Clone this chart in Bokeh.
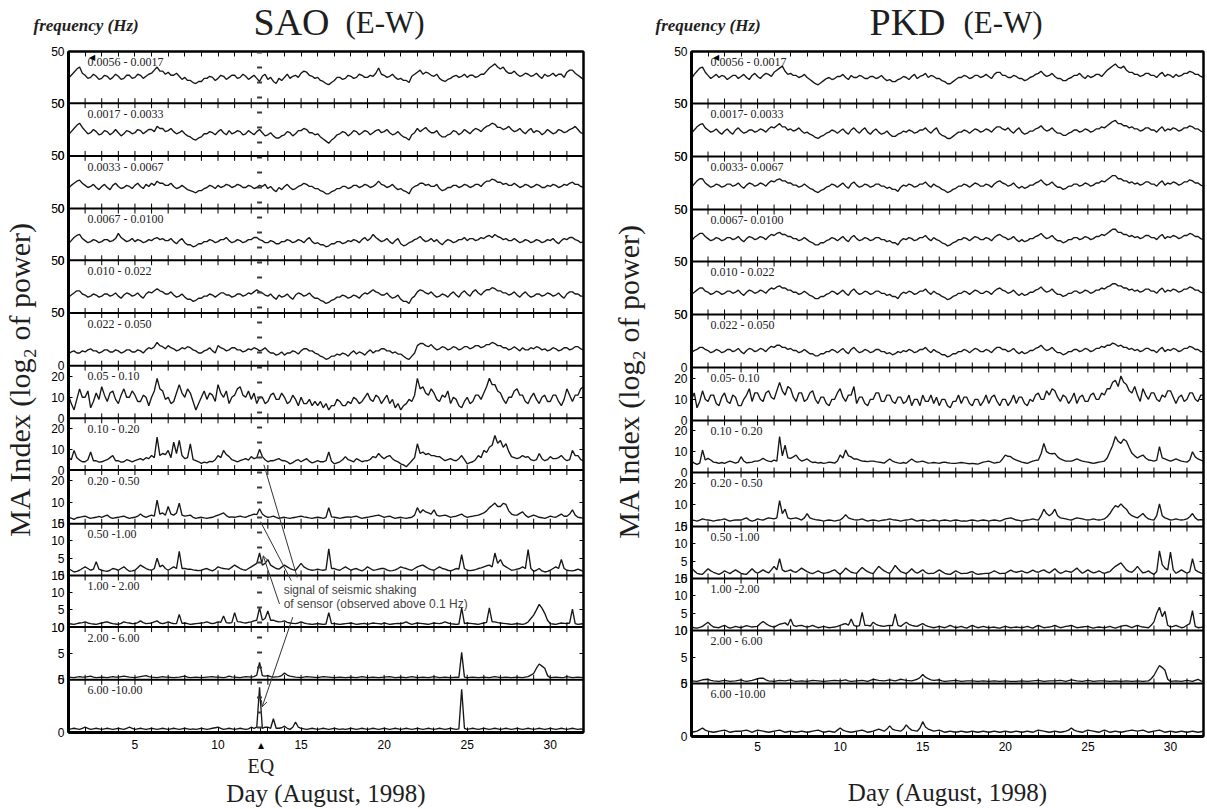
import math
from bokeh.plotting import figure
from bokeh.layouts import row, column
from bokeh.models import Range1d, LinearAxis, FixedTicker, Span, Label, Arrow, OpenHead
from bokeh.embed import file_html
from bokeh.resources import INLINE

# ---------------- data (day 1 .. 32, 6 samples per day) -------------
BANDS_SAO = ["0.0056 - 0.0017", "0.0017 - 0.0033", "0.0033 - 0.0067", "0.0067 - 0.0100",
             "0.010 - 0.022", "0.022 - 0.050", "0.05 - 0.10", "0.10 - 0.20", "0.20 - 0.50",
             "0.50 -1.00", "1.00 - 2.00", "2.00 - 6.00", "6.00 -10.00"]
BANDS_PKD = ["0.0056 - 0.0017", "0.0017- 0.0033", "0.0033- 0.0067", "0.0067- 0.0100",
             "0.010 - 0.022", "0.022 - 0.050", "0.05- 0.10", "0.10 - 0.20", "0.20 - 0.50",
             "0.50 -1.00", "1.00 -2.00", "2.00 - 6.00", "6.00 -10.00"]
Y_MAX = [50, 50, 50, 50, 50, 50, 25, 25, 25, 15, 15, 10, 5]
Y_TICKS = [[0, 50]] * 6 + [[0, 10, 20]] * 3 + [[0, 5, 10, 15]] * 2 + [[0, 5, 10], [0, 5]]
DAY_TICKS = list(range(2, 32))
DAY_LABELS = [5, 10, 15, 20, 25, 30]
EQ_DAY = 12.5
EQ_MARK_DAY = 12.58

SAO_1 = [24,27,30,33,35,29, 27,24,25,28,26,23, 24,27,26,23,25,28, 26,23,24,27,27,24, 25,28,27,24,26,28,
         29,32,35,31,31,28, 30,27,27,29,26,23, 25,22,22,20,19,21, 21,24,24,26,25,22, 24,27,26,23,25,27,
         27,24,25,28,26,23, 25,27,24,21,26,28, 23,25,21,19,24,22, 25,28,24,26,27,25, 29,31,30,27,26,24,
         25,22,21,19,18,20, 22,25,25,23,24,27, 26,24,25,28,27,25, 25,27,26,29,34,28, 27,25,26,28,25,23,
         24,22,22,20,26,28, 30,32,28,30,29,27, 26,28,24,22,21,23, 24,26,27,25,26,28, 25,27,27,25,26,28,
         28,31,34,36,38,35, 33,35,31,29,29,31, 28,26,27,29,28,26, 27,29,26,24,28,26, 27,29,26,28,28,25,
         30,32,32,29,27,25, 23]
SAO_2 = [20,23,26,29,31,27, 24,21,22,25,23,20, 21,24,23,20,22,25, 22,19,21,24,23,21, 22,25,24,21,23,25,
         25,23,28,26,26,23, 24,26,23,21,22,24, 21,19,18,16,15,17, 18,21,21,23,22,20, 23,25,22,20,24,21,
         22,24,23,20,21,24, 22,20,23,25,22,19, 20,22,19,17,17,19, 20,23,22,19,21,24, 24,26,25,22,22,20,
         21,18,16,14,12,15, 17,20,21,23,22,19, 21,24,23,20,22,24, 23,20,22,24,25,22, 23,25,22,20,21,23,
         20,18,17,15,20,22, 26,23,25,27,24,22, 22,24,20,18,18,20, 21,24,23,20,22,25, 23,21,24,26,25,23,
         26,28,29,31,30,27, 27,25,26,28,25,23, 24,26,23,21,24,26, 22,24,23,20,22,25, 23,21,22,25,24,22,
         23,25,26,28,25,22, 21]
SAO_3 = [19,22,24,26,27,24, 22,20,21,23,20,18, 21,23,20,18,22,24, 21,19,20,22,21,19, 22,24,21,19,23,21,
         24,22,26,24,24,22, 22,24,21,19,20,22, 20,18,17,16,15,17, 17,19,20,22,21,19, 22,20,21,23,22,20,
         21,23,22,20,20,22, 21,19,20,22,21,23, 19,21,18,16,20,18, 21,23,20,18,19,21, 22,24,23,21,21,19,
         19,17,16,14,14,16, 17,19,19,21,21,19, 20,22,22,20,21,23, 22,20,21,23,26,23, 22,20,21,23,20,18,
         19,17,16,14,19,21, 22,24,24,22,23,21, 21,23,19,17,18,20, 20,22,22,20,21,23, 22,20,21,23,23,21,
         24,26,26,28,27,25, 25,23,24,22,22,24, 22,20,21,23,22,20, 21,23,22,20,20,22, 21,23,22,20,21,23,
         22,24,25,23,23,21, 20]
SAO_4 = [16,19,22,24,25,21, 19,17,18,20,19,17, 18,20,20,18,19,21, 26,22,20,18,19,21, 18,20,19,17,18,20,
         19,21,22,20,21,19, 19,21,18,16,19,21, 17,15,15,13,14,16, 16,18,18,20,19,17, 18,20,20,22,19,17,
         18,20,19,17,18,20, 20,22,22,20,19,17, 17,19,18,16,16,18, 18,20,19,17,18,20, 19,17,20,22,18,16,
         17,15,15,13,14,16, 16,18,18,16,17,19, 18,20,19,17,20,22, 19,21,25,22,20,18, 19,21,18,16,19,21,
         16,14,15,17,18,20, 21,23,20,18,19,21, 18,20,17,15,18,20, 19,17,18,20,20,22, 19,21,21,19,20,22,
         21,23,24,22,25,23, 22,20,21,19,19,21, 19,17,18,20,19,17, 18,20,19,17,18,20, 19,21,18,16,19,21,
         20,22,22,20,19,17, 18]
SAO_5 = [15,17,19,21,21,18, 17,15,16,18,17,15, 16,18,18,16,17,19, 16,14,17,19,18,16, 17,19,16,14,18,20,
         19,21,23,21,20,18, 18,20,17,15,16,18, 15,13,13,11,12,14, 14,16,16,18,17,15, 17,19,19,17,17,15,
         16,18,18,16,17,19, 18,20,22,20,19,17, 16,18,15,13,17,15, 16,18,15,13,17,19, 18,16,17,19,16,14,
         14,12,11,9,10,12, 13,15,15,17,16,14, 15,17,16,14,17,19, 18,20,22,20,19,17, 17,19,16,14,15,17,
         13,11,11,9,14,16, 20,22,21,19,18,20, 17,15,16,18,17,15, 18,20,17,15,19,21, 18,16,20,22,19,17,
         20,22,22,24,23,21, 21,19,19,17,18,20, 17,15,18,20,17,15, 16,18,18,16,17,19, 18,16,17,19,16,14,
         18,20,20,18,18,16, 16]
SAO_6 = [11,13,14,12,12,14, 13,15,16,14,14,12, 13,15,15,13,13,15, 14,12,13,15,15,13, 13,15,14,12,15,17,
         16,18,22,19,18,16, 19,17,16,14,15,17, 16,18,17,15,14,12, 12,14,15,17,14,12, 19,17,16,14,15,17,
         17,15,15,13,14,16, 15,17,16,14,15,17, 14,12,12,10,11,13, 10,12,12,14,13,11, 14,16,16,14,14,12,
         11,9,8,6,7,9, 9,11,10,12,11,9, 12,14,11,13,12,10, 13,15,12,14,14,16, 16,14,14,12,13,11,
         11,9,7,6,9,12, 19,21,21,19,18,20, 17,15,16,18,17,15, 16,18,17,15,16,18, 18,16,17,19,19,17,
         18,20,20,22,21,19, 19,17,17,15,16,18, 16,14,17,15,15,17, 16,18,17,15,16,14, 15,17,16,14,15,17,
         17,15,16,18,18,16, 15]
SAO_7 = [11,7,4,9,14,10, 10,13,5,8,12,9, 15,11,8,12,13,9, 7,11,14,10,10,13, 11,8,8,11,10,6,
         10,13,19,14,13,9, 10,7,8,12,16,12, 10,14,12,8,4,7, 10,13,9,12,11,8, 16,12,10,13,7,10,
         11,14,15,11,10,13, 9,12,7,10,10,7, 8,11,12,9,9,12, 10,7,8,11,9,6, 10,7,7,9,6,8,
         6,8,5,7,4,6, 6,9,8,6,6,8, 7,10,9,7,8,10, 12,9,8,11,10,7, 9,11,7,9,5,7,
         4,6,7,9,8,11, 19,14,15,12,11,14, 12,9,8,11,10,13, 7,10,9,6,5,8, 10,7,8,11,11,9,
         12,15,19,16,16,13, 12,9,7,10,10,13, 14,11,11,8,7,10, 12,9,7,10,11,8, 8,11,11,8,6,9,
         14,11,8,11,11,14, 15]
SAO_8 = [6.3,5,9.5,6,4.8,4, 4,5,8.7,4.5,4.5,3.8, 4,4.6,5,6,7,4.5, 4.5,3.8,4,5,4.5,4, 4.5,5,5.5,4.8,6,5.5,
         7,6,15.9,7,8,7.5, 9.5,6,13.5,8,14.3,7, 5.5,6,12.7,5,4.5,4, 3.2,3.8,3.5,4.2,4,5, 7,6,9.5,7.5,6.5,5,
         4.5,4,4.5,5,5.5,4.8, 6.5,5.5,6,10,6.5,5, 4,4.5,4.5,5,5.5,4.6, 4.5,4,3,3.6,4.5,5, 4,4.8,5.5,4.2,3.5,4,
         4.5,4,4,4.5,8.7,4.2, 3,3.5,4,5,6.5,5, 4.5,4,5.5,4.8,4,4.4, 4.5,5.2,6.5,6,8,6.5, 5.5,6.5,7,5.5,4.5,4,
         3,2.5,1.6,3,4.5,6, 12.7,8,8.7,7.5,8,7, 7,6.5,6.5,5.5,4.5,5, 5.5,4.8,4.5,5.5,7,5, 3,3.6,4,5,7,6,
         9.5,8.5,11,12,16.7,13, 14.3,11,12.7,9,6.5,6, 5.5,6,7,6.2,6.5,5, 4.5,5,8,5.5,4.5,5, 6.5,5.5,5.5,6,7,5.5,
         4.5,5,9.5,7,7,5, 4.5]
SAO_9 = [3,2.6,2,2.8,3,3.3, 3.5,3,2.5,2.8,3,3.4, 3,3.5,4,3,2.5,2.8, 3,3.3,3.5,3,2.5,2.8, 3,3.5,4.5,3.5,3,3.5,
         4,3.5,11,4.5,5,4, 8,4.5,4,5,9.6,4, 3.5,3.8,4,3,2.5,2.8, 3,2.7,2.5,2.8,3,3.5, 4,4.5,5,3.8,3,3.2,
         3,3.3,3.5,3.2,3,3.6, 4,4.5,4.2,7,4.5,3.5, 3,3.2,3.5,3,2.5,2.8, 3,2.7,2.5,2.8,3,3.3, 3.5,3.2,3,2.7,2.5,2.8,
         3,2.8,2.5,3,7.5,3.2, 3,2.8,2.5,2.8,3,3.2, 3,3.3,3.5,3,2.5,2.8, 3,3.3,3.5,3.8,4,3.5, 3,3.3,3.5,3,2.5,2.8,
         3,2.7,2.5,2.8,3,4, 7.5,5,6.5,5.5,5,4.5, 6.5,4,3.5,3.8,4,3.5, 3,3.3,3.5,4,4.5,3.5, 3,3.3,3.5,3.8,4,4.5,
         5,6,7.5,8.5,9.6,8, 8,9.5,9,6,4.5,4, 4,4.8,5.5,4,3,3.5, 4,3.5,3,2.8,2.5,3, 3.5,3.2,3,3.8,4.5,3.5,
         3.5,4.5,6.5,4,3,2.8, 2.5]
SAO_10 = [2,1.5,1,1.2,1.5,2, 2.5,2,1.5,1.8,4,1.8, 1.5,1.3,1.2,1.5,2,1.8, 1.5,2,2.5,1.8,1.2,1.3, 1.5,2.2,3,2.5,2,1.7,
          1.5,2,5,2.5,3,2, 1.5,2,2.5,2,7,2, 2,1.8,1.8,1.6,1.5,1.4, 1.5,1.8,2,1.6,1.3,1.8, 2.5,2.2,2,1.9,1.8,2.4,
          3,2.5,2,1.7,1.5,2, 2.5,3,3.5,6.5,3,3.5, 4.6,3,2.5,2,1.8,2.4, 3,2.5,2,1.7,1.5,2.5, 3.5,2.5,2,1.7,1.5,1.6,
          1.8,1.6,1.5,1.7,7.7,2, 2,1.7,1.5,2,2.5,2, 1.5,1.8,2,1.6,1.3,1.8, 2.5,2,1.5,1.6,1.8,2, 2,1.6,1.3,1.4,1.6,2,
          2.5,2.2,2,1.7,1.5,2, 2.5,2.8,3,2.5,2,1.7, 1.5,2,2.5,2,1.8,1.5, 1.3,1.6,2,1.8,6,2, 1.5,1.4,1.5,1.7,2,2.2,
          2.5,2.8,3,2.5,6.5,3.5, 4.6,3,2.5,2,1.5,1.6, 1.8,2,2.5,2,7.5,2, 1.2,1.5,2,1.3,1,1.2, 1.5,2,2.5,2,4.6,2,
          1.5,1.4,1.3,1.5,1.8,1.5, 1.2]
SAO_11 = [1,0.9,0.8,1,1.2,1.3, 1.5,1.2,1,0.9,0.8,1, 1.2,1.4,1.5,1.2,1,0.9, 0.8,1.1,1.5,1.3,1.2,1, 1,1.3,1.8,1.3,1,1.1,
          1.2,1.5,1.8,1.2,1,1.2, 1.5,1.2,1,1,3.7,1.1, 1.2,1,0.8,0.9,1,1.1, 1.2,1.3,1.5,1.2,1,1.2, 1.5,1.4,3.2,1.3,1.2,1.3,
          4.2,1.6,1.5,1.3,1.2,1.4, 1.5,1.8,2,5.6,2,2.5, 4.7,2,2,1.7,1.5,1.6, 1.8,1.4,1.2,1.1,1,1.2, 1.5,1.2,1,0.9,0.8,0.9,
          1,0.9,0.8,0.9,4.2,1, 1,0.9,0.8,0.9,1,1.1, 1.2,1,0.8,0.9,1,1.1, 0.8,1,1.2,1.1,1,0.9, 1.2,1,0.8,0.9,1,1.1,
          1,1.2,1.5,1.1,0.8,1, 1.2,1.1,1,0.9,0.8,1, 1.2,1.1,1,1.2,1.5,1.2, 1,0.9,0.8,0.9,5.6,1, 1.2,1.1,1,0.9,0.8,1,
          1.2,1.4,5.6,1.5,1.5,1.3, 1.2,1.1,1,0.9,0.8,0.9, 1,0.9,0.8,1,1.5,2.5, 3.5,5,6.6,5.5,4,2, 1,0.9,0.8,1,1.2,1.1,
          1,1.2,5.2,1,0.8,0.9, 1]
SAO_12 = [0.5,0.45,0.4,0.5,0.6,0.5, 0.5,0.6,0.7,0.5,0.4,0.45, 0.5,0.45,0.4,0.5,0.6,0.5, 0.5,0.6,0.7,0.6,0.5,0.45,
          0.4,0.5,0.6,0.7,0.8,0.6, 0.5,0.45,0.4,0.5,0.6,0.5, 0.5,0.45,0.4,0.45,0.5,0.6, 0.7,0.5,0.4,0.45,0.5,0.45,
          0.4,0.45,0.5,0.55,0.6,0.5, 0.5,0.45,0.4,0.5,0.7,0.55, 0.5,0.45,0.4,0.5,0.6,0.55, 0.5,0.6,0.9,3.3,0.8,0.7,
          0.8,0.6,0.5,0.55,0.6,0.8, 1.3,0.9,0.7,0.6,0.5,0.45, 0.4,0.5,0.6,0.55,0.5,0.45, 0.4,0.5,0.6,0.55,0.5,0.45,
          0.4,0.45,0.5,0.45,0.4,0.45, 0.5,0.45,0.4,0.5,0.6,0.5, 0.4,0.45,0.5,0.45,0.4,0.45, 0.5,0.55,0.6,0.5,0.4,0.45,
          0.5,0.45,0.4,0.5,0.6,0.5, 0.4,0.45,0.5,0.45,0.4,0.5, 0.6,0.5,0.4,0.45,0.5,0.45, 0.4,0.45,0.5,0.45,5.2,0.5,
          0.4,0.45,0.5,0.45,0.4,0.45, 0.5,0.45,0.4,0.5,0.6,0.5, 0.4,0.45,0.5,0.45,0.4,0.45, 0.5,0.45,0.4,0.5,0.6,0.9,
          1.2,2.2,3,2.6,2.2,0.8, 0.4,0.45,0.5,0.45,0.4,0.45, 0.6,0.5,0.4,0.45,0.5,0.45, 0.4]
SAO_13 = [0.3,0.35,0.4,0.35,0.3,0.4, 0.5,0.4,0.3,0.35,0.4,0.35, 0.3,0.35,0.4,0.35,0.3,0.35, 0.4,0.35,0.3,0.4,0.5,0.4,
          0.3,0.35,0.4,0.35,0.3,0.35, 0.4,0.35,0.3,0.35,0.4,0.35, 0.3,0.35,0.4,0.35,0.3,0.35, 0.4,0.35,0.3,0.35,0.3,0.35,
          0.4,0.35,0.3,0.35,0.4,0.45, 0.5,0.4,0.3,0.35,0.4,0.35, 0.3,0.35,0.4,0.35,0.3,0.35, 0.5,0.4,0.5,4.3,0.4,0.5,
          0.5,0.4,1.3,0.4,0.4,0.45, 0.6,0.4,0.3,0.5,1,0.5, 0.4,0.35,0.3,0.35,0.4,0.35, 0.3,0.35,0.4,0.35,0.3,0.35,
          0.4,0.35,0.3,0.35,0.3,0.35, 0.4,0.35,0.3,0.35,0.4,0.35, 0.3,0.35,0.4,0.35,0.3,0.35, 0.4,0.35,0.3,0.35,0.4,0.35,
          0.3,0.35,0.4,0.35,0.3,0.35, 0.4,0.35,0.3,0.35,0.4,0.35, 0.3,0.35,0.4,0.35,0.3,0.35, 0.4,0.35,0.3,0.35,4.1,0.4,
          0.3,0.35,0.4,0.35,0.3,0.35, 0.4,0.35,0.3,0.35,0.4,0.35, 0.3,0.35,0.4,0.35,0.3,0.35, 0.4,0.35,0.3,0.35,0.4,0.35,
          0.3,0.35,0.4,0.35,0.3,0.35, 0.4,0.35,0.3,0.35,0.4,0.35, 0.3,0.35,0.4,0.35,0.3,0.35, 0.3]

PKD_1 = [24,28,31,34,35,30, 27,24,26,28,25,27, 26,23,25,27,27,24, 26,28,25,23,27,29, 26,24,27,29,28,26,
         30,32,34,36,31,28, 29,27,27,25,26,28, 25,23,21,19,18,20, 22,24,25,23,24,26, 26,28,25,23,27,25,
         25,27,26,24,24,26, 26,24,25,27,24,22, 23,21,21,23,24,26, 25,23,26,28,24,26, 27,29,25,27,26,24,
         24,22,21,19,19,21, 23,25,25,27,26,24, 25,27,27,25,26,28, 26,24,28,30,30,27, 27,25,25,27,26,24,
         24,22,23,25,26,28, 29,31,28,26,27,29, 26,24,24,22,22,24, 25,27,27,29,26,24, 27,25,26,28,28,26,
         29,32,34,36,38,35, 34,36,32,30,30,28, 28,26,27,29,29,27, 27,25,28,30,26,28, 27,25,28,26,27,29,
         29,31,30,28,28,26, 25]
PKD_2 = [22,25,28,30,31,27, 25,23,24,26,23,21, 24,26,23,21,25,27, 24,22,23,25,25,23, 24,26,25,23,26,28,
         27,29,31,28,28,25, 26,24,25,27,24,22, 23,21,20,18,17,19, 20,22,23,25,24,22, 24,26,23,21,25,27,
         24,22,25,27,23,21, 24,26,23,21,22,24, 21,19,19,21,22,24, 23,25,24,22,23,25, 25,27,24,22,25,27,
         22,20,19,17,17,19, 21,23,23,25,24,22, 24,26,25,23,24,26, 25,23,26,28,28,26, 25,27,24,22,25,27,
         23,21,22,24,24,26, 27,29,26,24,25,27, 24,22,22,20,20,22, 23,25,25,23,24,26, 25,23,24,26,26,28,
         27,29,31,33,34,31, 31,29,29,27,28,26, 26,24,25,27,27,25, 25,23,26,28,24,26, 25,27,26,24,25,27,
         27,29,28,26,26,24, 23]
PKD_3 = [21,24,27,29,29,25, 23,21,22,24,23,21, 22,24,24,22,23,25, 22,20,23,25,24,22, 23,25,24,22,25,27,
         26,28,29,27,27,25, 25,23,23,21,22,24, 22,20,19,17,16,18, 19,21,22,24,23,21, 23,25,22,20,24,26,
         23,21,22,24,23,21, 22,24,24,22,22,20, 21,19,19,17,21,23, 22,24,23,21,22,24, 24,26,23,21,24,22,
         21,19,18,16,17,19, 20,22,22,24,23,21, 23,25,24,22,22,24, 23,21,24,26,27,25, 24,22,23,25,22,20,
         22,20,21,23,23,25, 26,28,25,23,24,26, 23,21,21,19,20,22, 22,24,24,22,23,25, 24,22,23,25,25,27,
         26,28,30,32,32,29, 29,27,27,25,26,24, 25,23,24,26,26,24, 24,22,25,27,23,25, 24,26,25,23,24,26,
         26,28,27,25,25,23, 22]
PKD_4 = [20,23,25,27,27,24, 22,20,21,23,22,20, 21,23,23,21,22,24, 21,19,22,24,23,21, 22,24,23,21,24,26,
         25,27,28,26,26,24, 24,22,22,20,21,23, 21,19,18,16,16,18, 18,20,21,23,22,20, 22,24,21,19,23,25,
         22,20,21,23,22,20, 21,23,23,21,21,19, 20,18,18,16,20,22, 21,23,22,20,21,23, 23,25,22,20,23,21,
         20,18,17,15,16,18, 19,21,21,23,22,20, 22,24,23,21,21,23, 22,20,23,25,26,24, 23,21,22,24,21,19,
         21,19,20,22,22,24, 25,27,24,22,23,25, 22,20,20,18,19,21, 21,23,23,21,22,24, 23,21,22,24,24,26,
         25,27,29,31,31,28, 28,26,26,24,25,23, 24,22,23,25,25,23, 23,21,24,26,22,24, 23,25,24,22,23,25,
         25,27,26,24,24,22, 21]
PKD_5 = [19,21,23,25,25,22, 21,19,20,22,21,19, 20,22,22,20,21,23, 20,18,21,23,22,20, 21,23,22,20,23,25,
         24,26,27,25,25,23, 23,21,21,19,20,22, 20,18,17,15,15,17, 17,19,20,22,21,19, 21,23,20,18,22,24,
         21,19,20,22,21,19, 20,22,22,20,20,18, 19,17,17,15,19,21, 20,22,21,19,20,22, 22,24,21,19,22,20,
         19,17,16,14,15,17, 18,20,20,22,21,19, 21,23,22,20,20,22, 21,19,22,24,25,23, 22,20,21,23,20,18,
         20,18,19,21,21,23, 24,26,23,21,22,24, 21,19,19,17,18,20, 20,22,22,20,21,23, 22,20,21,23,23,25,
         24,26,27,29,29,27, 27,25,25,23,24,22, 23,21,22,24,24,22, 22,20,23,25,21,23, 22,24,23,21,22,24,
         24,26,25,23,23,21, 20]
PKD_6 = [14,16,17,19,19,17, 16,14,15,17,16,14, 15,17,17,15,16,18, 15,13,16,18,17,15, 16,18,17,15,18,20,
         19,21,21,19,19,17, 18,16,16,14,15,17, 15,13,13,11,11,13, 13,15,15,17,16,14, 16,18,15,13,17,19,
         16,14,15,17,16,14, 15,17,17,15,15,13, 14,12,13,15,14,16, 15,17,16,14,15,17, 17,19,16,14,17,15,
         14,12,12,10,11,13, 13,15,15,17,16,14, 16,18,17,15,15,17, 16,14,17,19,19,17, 17,15,16,18,15,13,
         15,13,14,16,16,18, 19,21,18,16,17,19, 16,14,14,12,13,15, 15,17,17,15,16,18, 17,15,16,18,18,20,
         19,21,21,23,22,20, 21,19,19,17,18,16, 17,15,16,18,18,16, 16,14,17,19,15,17, 16,18,17,15,16,18,
         18,20,19,17,17,15, 15]
PKD_7 = [10,13,6,9,14,10, 9,12,12,8,7,11, 13,9,8,12,11,7, 7,10,12,15,9,13, 13,10,9,13,14,11,
         10,14,18,14,12,16, 15,11,9,13,13,9, 10,13,14,10,8,11, 11,8,7,10,10,13, 15,11,9,12,12,16,
         8,11,11,8,7,10, 10,13,13,9,9,12, 12,9,8,11,11,8, 9,12,7,10,10,7, 12,9,9,12,8,11,
         7,10,10,7,6,9, 9,12,8,11,11,8, 7,10,10,7,9,12, 8,11,12,9,7,10, 10,7,9,12,8,11,
         11,8,7,10,9,12, 13,10,10,14,12,15, 14,11,9,12,11,8, 10,13,8,11,12,9, 9,12,13,10,10,13,
         12,15,15,18,19,16, 21,18,17,14,13,16, 12,9,15,12,10,13, 13,10,9,12,11,14, 14,11,8,11,12,9,
         10,13,13,10,9,12, 12]
PKD_8 = [5.5,4.5,3.9,4.5,10.8,6, 6.8,6,5,4.8,4.4,4.8, 4.4,5,5.5,5,4.5,5, 7.6,5.5,4.6,4.8,5,5.5, 5.5,6,6.8,6,5.5,5.2,
         6,5.5,17.3,8,13.2,7, 6.8,7.5,8.4,6.5,5.5,6, 6.5,5.5,4.8,5,4.5,4.8, 4.4,4.6,5,4.8,4.5,5.5, 8.4,7,10.8,8,7.5,6.5,
         6.5,6,5.5,5.4,5.2,5.5, 5.5,5.2,5,4.8,4.5,5.5, 6.5,5.5,5,4.6,4.4,4.8, 4.4,5.5,6.5,5.5,5,5.2, 5.5,5,4.5,4.6,4.8,4.6,
         4.4,4.8,5,4.7,4.5,4.4, 4.4,4.6,4.8,4.6,4.4,4.2, 4.4,4.2,4,4.5,5,5.2, 5.5,5,4.5,4.8,5,6.5, 8.4,7.8,7.6,6.5,6,5.5,
         5,4.7,4.4,5,5.5,5.8, 6,9,14,10,9.2,9, 9.2,7.5,6.5,6,5.5,5.5, 5.5,6,6.5,6,5.5,5.2, 5,4.7,4.4,4.7,5,5.2,
         5.5,7,10,13,17.3,15, 14,16,15,12,9.2,8, 7,7.8,8.4,7,6,5.8, 5.5,6,12.4,7,6.5,6, 5.5,6,6.5,6,5.5,5.2,
         5,6,10,7.5,6.5,6, 5.5]
PKD_9 = [3,2.8,2.5,3,3.5,3.2, 3,2.8,2.5,2.8,3,3.2, 3.5,3,2.5,2.8,3,3, 3,3.5,4,3,2.5,2.8, 3.5,3.2,3,3.5,4,3.8,
         3.5,4,12,6,8,4, 3.5,3.8,4,3.5,3,4, 6,4,3.5,3.2,3,2.8, 2.5,2.8,3,2.8,2.5,2.8, 3,4,5.5,4,3.5,3.2,
         3,3.2,3.5,3,2.5,2.8, 3,2.8,2.5,2.8,3,3.2, 3.5,3.2,3,2.8,2.5,2.8, 3,3.2,3.5,3,2.5,2.8, 3,2.8,2.5,2.8,3,2.8,
         2.5,2.8,3,2.8,2.5,2.8, 3,2.8,2.5,2.6,2.5,2.8, 3,2.8,2.5,2.8,3,2.8, 2.5,2.8,3,2.8,2.5,3, 3.5,3.8,4,3.5,3,2.8,
         2.5,2.8,3,3.2,3.5,3.2, 3,5,8,6,5,6, 8,5,4,3.8,3.5,3.2, 3,3.5,4,3.8,3.5,3.2, 3,3.2,3.5,3.2,3,3.2,
         3.5,4.5,6,8,9.7,9, 10.5,9,8,6,5,4.5, 4,5,6,4.5,3.5,3.2, 3,5,10.5,5,4,3.5, 3,3.2,3.5,3.2,3,3.2,
         3.5,4.5,6,4,3,3.2, 3]
PKD_10 = [3,2.2,1.5,1.3,1.2,2, 2.8,2.2,1.8,1.5,1.2,1.6, 2.2,1.8,1.4,2,2.5,2, 1.5,1.3,1.2,2,2.8,2, 1.5,2,2.5,2,1.6,2.5,
          3.5,2.5,5.7,2.5,2,2.2, 2.5,2,1.8,2.4,3,2.5, 2,1.6,1.4,1.8,2.2,1.8, 1.5,1.6,1.8,2.2,2.5,1.8, 1.2,2,3,2.4,1.8,1.6,
          1.5,2.4,3.2,2.5,2,1.6, 1.4,2.5,3.5,2.8,2.2,1.8, 1.5,2.5,3.8,2.8,2,1.7, 1.4,2,2.8,2,1.5,2, 2.5,1.8,1.4,1.5,1.5,2,
          2.5,2,1.5,1.3,1.2,1.7, 2.2,1.8,1.4,1.5,1.5,1.8, 2,1.5,1.2,1.3,1.4,1.5, 1.5,1.8,2.2,1.8,1.4,1.5, 1.5,2,2.4,2,1.8,2,
          2.2,1.8,1.6,2,2.4,2, 1.8,2.2,2.5,2,1.6,2.2, 2.8,2,1.5,1.8,2.2,2, 1.8,2.4,3,2.2,1.5,2, 2.5,2,1.6,1.8,2.2,1.8,
          1.5,1.8,2,2.8,3.5,4, 4.5,3.5,2.5,2,1.8,2.5, 3.5,2.5,1.6,1.8,2.2,1.6, 1.2,2,8,4,3,2.5, 7.6,2.5,1.5,2,2.5,2,
          1.5,2,5.7,2.5,2,1.6, 1.4]
PKD_11 = [1,0.8,0.7,0.9,1.2,1.8, 2.4,1.6,1,0.9,0.8,1.2, 1.5,1,0.7,0.9,1.2,1, 0.8,1.1,1.4,1.2,1,1.1, 1.2,2,2.6,2,1.5,1.2,
          1,1.4,1.8,2,2.2,1.5, 3.3,1.5,1.2,1.4,1.5,1.2, 1,1.2,1.5,1.1,0.8,1, 1.2,1,0.8,0.9,1,1.2, 1.5,1.8,2,1.5,3.3,1.5,
          1.2,1.4,5.2,1.5,1.5,1.3, 2.4,1.8,1.5,1.3,1.2,1.4, 1.5,1.4,4.8,1.5,1.2,1.8, 2.4,1.8,1.5,1.3,1.2,1.6, 2,1.5,1.2,1,0.8,1,
          1.2,1,0.8,1.1,1.5,1.1, 0.8,1,1.2,0.9,0.7,1.1, 1.5,1.1,0.8,1,1.2,1, 0.8,0.9,1,0.8,0.7,1, 1.2,1,0.8,0.9,1,0.9,
          0.8,1,1.2,0.9,0.7,1.1, 1.5,1.1,0.8,0.9,1,1.2, 1.5,1.1,0.8,1,1.2,1.3, 1.5,1.1,0.8,0.9,1,1.1, 1.2,0.9,0.7,0.9,1,0.9,
          0.8,1,1.2,0.9,0.7,1, 1.2,1.4,1.5,1.1,0.8,1.2, 1.5,1.2,1,0.9,0.8,1.5, 2.5,5,6.7,4,5.5,1.5, 1,1.2,1.5,1.1,0.8,1,
          1.5,2,5.7,1.2,0.8,0.9, 1]
PKD_12 = [0.5,0.45,0.4,0.55,0.7,0.75, 0.8,0.6,0.5,0.45,0.4,0.5, 0.6,0.5,0.4,0.45,0.5,0.6, 0.7,0.5,0.4,0.5,0.6,0.75,
          0.9,1,1,0.7,0.5,0.45, 0.4,0.5,0.6,0.55,0.5,0.6, 0.7,0.5,0.4,0.45,0.5,0.45, 0.4,0.5,0.6,0.55,0.5,0.45,
          0.4,0.45,0.5,0.55,0.6,0.55, 0.5,0.6,0.7,0.5,0.4,0.45, 0.5,0.55,0.6,0.5,0.4,0.6, 0.8,0.7,0.6,0.55,0.5,0.6,
          0.7,0.6,0.5,0.65,0.8,0.7, 0.6,0.55,0.5,0.65,0.8,1.1, 1.7,1.2,0.9,0.7,0.6,0.65, 0.7,0.5,0.4,0.45,0.5,0.55,
          0.6,0.5,0.4,0.45,0.5,0.5, 0.5,0.45,0.4,0.45,0.5,0.45, 0.4,0.45,0.5,0.45,0.4,0.45, 0.5,0.45,0.4,0.4,0.4,0.45,
          0.5,0.45,0.4,0.45,0.5,0.55, 0.6,0.5,0.4,0.45,0.5,0.5, 0.5,0.55,0.6,0.5,0.4,0.55, 0.7,0.6,0.5,0.45,0.4,0.5,
          0.6,0.5,0.4,0.45,0.5,0.5, 0.5,0.45,0.4,0.45,0.5,0.45, 0.4,0.45,0.5,0.45,0.4,0.45, 0.5,0.45,0.4,0.45,0.5,0.9,
          1.5,2.5,3.4,3,2.5,0.8, 0.4,0.45,0.5,0.45,0.4,0.5, 0.6,0.5,0.4,0.6,0.8,0.5, 0.4]
PKD_13 = [0.4,0.45,0.5,0.65,0.8,0.6, 0.5,0.45,0.4,0.45,0.5,0.55, 0.6,0.5,0.4,0.45,0.5,0.5, 0.5,0.55,0.6,0.5,0.4,0.5,
          0.6,0.55,0.5,0.45,0.4,0.45, 0.5,0.55,0.6,0.5,0.4,0.45, 0.5,0.45,0.4,0.45,0.5,0.45, 0.4,0.45,0.5,0.55,0.6,0.5,
          0.4,0.45,0.5,0.45,0.4,0.6, 0.8,0.6,0.5,0.45,0.4,0.45, 0.5,0.55,0.6,0.5,0.4,0.45, 0.5,0.6,0.7,0.6,0.5,0.7,
          1,0.7,0.6,0.55,0.5,0.7, 1.1,0.8,0.6,0.55,0.5,0.8, 1.4,0.9,0.7,0.6,0.5,0.55, 0.6,0.5,0.4,0.45,0.5,0.45,
          0.4,0.45,0.5,0.45,0.4,0.45, 0.5,0.45,0.4,0.45,0.5,0.45, 0.4,0.45,0.5,0.45,0.4,0.45, 0.5,0.45,0.4,0.45,0.5,0.45,
          0.4,0.45,0.5,0.45,0.4,0.5, 0.6,0.55,0.5,0.45,0.4,0.45, 0.5,0.45,0.4,0.45,0.5,0.6, 0.8,0.6,0.5,0.45,0.4,0.5,
          0.6,0.55,0.5,0.45,0.4,0.5, 0.6,0.5,0.4,0.45,0.5,0.45, 0.4,0.45,0.5,0.55,0.6,0.55, 0.5,0.55,0.6,0.5,0.4,0.45,
          0.5,0.55,0.6,0.5,0.4,0.45, 0.5,0.45,0.4,0.45,0.5,0.45, 0.4,0.45,0.5,0.45,0.4,0.45, 0.5]

SAO = [SAO_1, SAO_2, SAO_3, SAO_4, SAO_5, SAO_6, SAO_7, SAO_8, SAO_9, SAO_10, SAO_11, SAO_12, SAO_13]
PKD = [PKD_1, PKD_2, PKD_3, PKD_4, PKD_5, PKD_6, PKD_7, PKD_8, PKD_9, PKD_10, PKD_11, PKD_12, PKD_13]

# ---------------- layout ----------------
HEAD_H = 43
MAIN_H = 809 - HEAD_H
FRAME_H = 685
EDGES = [685, 633, 580, 527, 475, 422, 369, 316, 264, 210, 158, 106, 53, 0]  # panel edges, frame px from bottom
SERIF = "Liberation Serif"
SANS = "Liberation Sans"
INK = "#161616"
TXT = "#1e1e1e"


def blank(width, height):
    f = figure(width=width, height=height, x_range=Range1d(0, width), y_range=Range1d(0, height),
               x_axis_type=None, y_axis_type=None, output_backend="svg", toolbar_location=None,
               min_border=0, outline_line_color=None)
    f.background_fill_color = "white"
    f.border_fill_color = "white"
    return f


def build(station, series, bands, strip_w, border_left, frame_w, pos, eq):
    # header with station title and the frequency caption
    head = blank(strip_w + border_left + frame_w + 4, HEAD_H)
    head.add_layout(Label(x=pos["freq"], y=18, text="frequency (Hz)", text_font=SERIF,
                          text_font_size="17px", text_font_style="bold italic", text_color=TXT,
                          text_baseline="middle"))
    head.add_layout(Label(x=pos["title"], y=21.7, text=station, text_font=SERIF,
                          text_font_size="38px", text_color=TXT, text_baseline="middle"))
    head.add_layout(Label(x=pos["sub"], y=21.2, text="(E-W)", text_font=SERIF,
                          text_font_size="31px", text_color=TXT, text_baseline="middle"))

    # strip with the vertical axis title
    strip = blank(strip_w, MAIN_H)
    strip.add_layout(Label(x=pos["ytitle"], y=397.5, text="MA Index (log\u2082 of power)",
                           angle=math.pi / 2, text_font=SERIF, text_font_size="30px", text_color=TXT,
                           text_align="center", text_baseline="middle"))

    p = figure(width=border_left + frame_w + 4, height=MAIN_H,
               x_range=Range1d(1, 32), y_range=Range1d(0, FRAME_H),
               x_axis_type=None, y_axis_type=None,
               output_backend="svg", toolbar_location=None,
               min_border_left=border_left, min_border_right=4,
               min_border_top=8, min_border_bottom=73)
    p.outline_line_color = "black"
    p.outline_line_width = 2
    p.background_fill_color = "white"
    p.border_fill_color = "white"

    extra = {}
    tick_pos, tick_txt = [], {}
    for k in range(13):
        top, bot = EDGES[k], EDGES[k + 1]
        scale = (top - bot) / Y_MAX[k]
        extra[f"panel{k}"] = Range1d(start=-bot / scale, end=(FRAME_H - bot) / scale)
        for v in Y_TICKS[k]:
            t = bot + v * scale
            if v == Y_MAX[k]:
                t -= 0.01
            tick_pos.append(t)
            tick_txt[t] = str(v)
    p.extra_y_ranges = extra

    if eq:
        p.add_layout(Span(location=EQ_DAY, dimension="height", line_color="#3a3a3a",
                          line_width=5, line_dash="2 13"))

    for k in range(13):
        n = len(series[k])
        spd = (n - 1) / 31
        xs = [1 + i / spd for i in range(n)]
        p.line(xs, series[k], y_range_name=f"panel{k}", line_color=INK, line_width=1.35)

    # panel separators and their inward day ticks
    for e in EDGES[1:13]:
        p.add_layout(Span(location=e, dimension="width", line_color="black", line_width=2))
    xs0, ys0, ys1 = [], [], []
    for e in EDGES[1:13]:
        for d in DAY_TICKS:
            xs0.append(d); ys0.append(e - 5); ys1.append(e + 5)
    p.segment(x0=xs0, y0=ys0, x1=xs0, y1=ys1, line_color="black", line_width=1)

    left = LinearAxis(ticker=FixedTicker(ticks=tick_pos), major_label_overrides=tick_txt,
                      major_tick_in=4, major_tick_out=0, minor_tick_in=0, minor_tick_out=0,
                      axis_line_width=3, major_label_standoff=4,
                      major_label_text_font=SANS, major_label_text_font_size="12px",
                      major_label_text_color="black")
    right = LinearAxis(ticker=FixedTicker(ticks=tick_pos), major_label_overrides={t: "" for t in tick_pos},
                       major_tick_in=4, major_tick_out=0, minor_tick_in=0, minor_tick_out=0,
                       axis_line_width=2, major_label_standoff=0, major_label_text_font_size="1px")
    top_ax = LinearAxis(ticker=FixedTicker(ticks=DAY_TICKS), major_label_overrides={d: "" for d in DAY_TICKS},
                        major_tick_in=5, major_tick_out=0, minor_tick_in=0, minor_tick_out=0,
                        axis_line_width=2, major_label_standoff=0, major_label_text_font_size="1px")
    bticks = DAY_TICKS + ([EQ_MARK_DAY] if eq else [])
    blabels = {d: (str(d) if d in DAY_LABELS else "") for d in DAY_TICKS}
    if eq:
        blabels[EQ_MARK_DAY] = "\u25b4"
    bottom = LinearAxis(ticker=FixedTicker(ticks=bticks), major_label_overrides=blabels,
                        major_tick_in=5, major_tick_out=0, minor_tick_in=0, minor_tick_out=0,
                        axis_line_width=3, major_label_standoff=5,
                        major_label_text_font=SANS, major_label_text_font_size="12px",
                        major_label_text_color="black")
    # second row under the day axis: EQ marker text and the axis title
    caption = LinearAxis(ticker=FixedTicker(ticks=[EQ_MARK_DAY]),
                         major_label_overrides={EQ_MARK_DAY: "EQ" if eq else " "},
                         major_tick_in=0, major_tick_out=0, minor_tick_in=0, minor_tick_out=0,
                         axis_line_color=None, major_label_standoff=0,
                         major_label_text_font=SERIF, major_label_text_font_size="20px",
                         major_label_text_color=TXT,
                         axis_label="Day (August, 1998)", axis_label_standoff=0,
                         axis_label_text_font=SERIF, axis_label_text_font_size="25px",
                         axis_label_text_font_style="normal", axis_label_text_color=TXT)
    p.add_layout(left, "left")
    p.add_layout(right, "right")
    p.add_layout(top_ax, "above")
    p.add_layout(bottom, "below")
    p.add_layout(caption, "below")

    for k in range(13):
        p.add_layout(Label(x=2.15, y=EDGES[k] - 10.7, text=bands[k], text_font=SERIF,
                           text_font_size="12px", text_color="#222222", text_baseline="middle"))
    p.add_layout(Label(x=pos["mark"], y=679, text="\u25c0", text_font=SANS, text_font_size="8px",
                       text_color="black", text_align="center", text_baseline="middle"))

    if eq:
        p.add_layout(Label(x=13.95, y=143, text="signal of seismic shaking", text_font=SANS,
                           text_font_size="12px", text_color="#444444", text_baseline="middle"))
        p.add_layout(Label(x=13.95, y=129, text="of sensor (observed above 0.1 Hz)", text_font=SANS,
                           text_font_size="12px", text_color="#444444", text_baseline="middle"))
        for (xs, ys, xe, ye, hd) in [(14.77, 156, 12.76, 269.3, False),
                                     (14.41, 152.7, 12.56, 212, False),
                                     (13.70, 129.3, 12.72, 177.7, True),
                                     (14.50, 116, 12.66, 26, True)]:
            p.add_layout(Arrow(x_start=xs, y_start=ys, x_end=xe, y_end=ye,
                               end=OpenHead(size=6, line_width=1, line_color="#333333") if hd else None,
                               line_color="#333333", line_width=1))

    return column(head, row(strip, p))


left_col = build("SAO", SAO, BANDS_SAO, 45, 23, 515,
                 dict(title=253, sub=345, freq=33, ytitle=18.5, mark=2.44), True)
right_col = build("PKD", PKD, BANDS_PKD, 75, 29, 512,
                  dict(title=282, sub=376, freq=68, ytitle=41, mark=2.48), False)

layout = row(left_col, right_col)
open("out.html", "w").write(file_html(layout, INLINE))
